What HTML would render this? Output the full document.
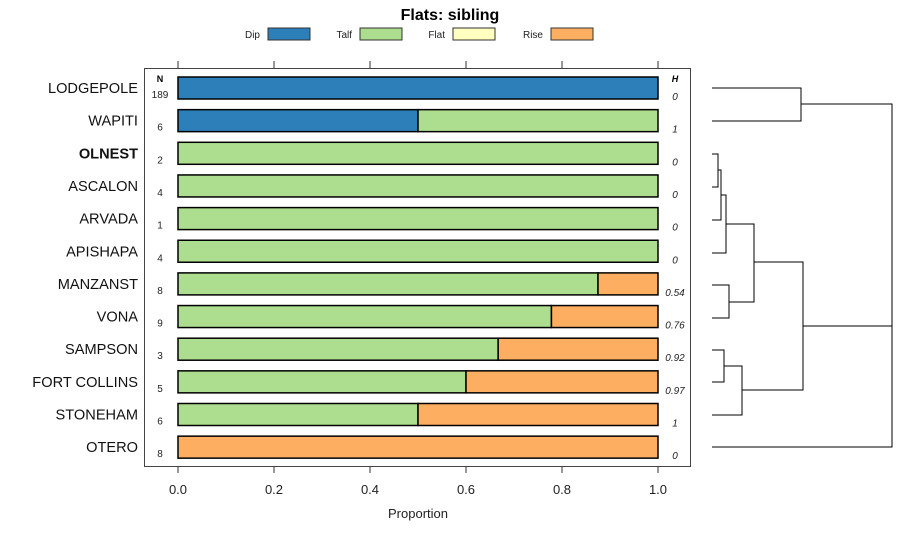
<!DOCTYPE html>
<html><head><meta charset="utf-8"><style>
html,body{margin:0;padding:0;background:#fff;}
svg{display:block;font-family:"Liberation Sans",sans-serif;}
</style></head><body>
<svg id="chart" width="900" height="540" viewBox="0 0 900 540"></svg>
<script>
const categories=["LODGEPOLE","WAPITI","OLNEST","ASCALON","ARVADA","APISHAPA","MANZANST","VONA","SAMPSON","FORT COLLINS","STONEHAM","OTERO"];
const nValues=["189","6","2","4","1","4","8","9","3","5","6","8"];
const hValues=["0","1","0","0","0","0","0.54","0.76","0.92","0.97","1","0"];
const dip=[1,0.5,0,0,0,0,0,0,0,0,0,0];
const talf=[0,0.5,1,1,1,1,0.875,0.778,0.667,0.6,0.5,0];
const flat=[0,0,0,0,0,0,0,0,0,0,0,0];
const rise=[0,0,0,0,0,0,0.125,0.222,0.333,0.4,0.5,1];
const seriesNames=["Dip","Talf","Flat","Rise"];
const seriesColors=["#2c7fb8","#addd8e","#ffffbf","#fdae61"];
const xTicks=[0,0.2,0.4,0.6,0.8,1.0];
const NS="http://www.w3.org/2000/svg";
const svg=document.getElementById('chart');
function mk(t,a,p){const e=document.createElementNS(NS,t);for(const k in a)e.setAttribute(k,a[k]);(p||svg).appendChild(e);return e;}
const x0=178,x1=658;
const xs=v=>x0+v*(x1-x0);
const ys=i=>88+i*32.65;
let t=mk('text',{x:450,y:20,'text-anchor':'middle','font-size':16,'font-weight':'bold'});t.textContent='Flats: sibling';

const lx=[268,360,453,551];
seriesNames.forEach((s,i)=>{
 const g=mk('g',{});
 
 
 const tt=mk('text',{x:lx[i]-8,y:38,'text-anchor':'end','font-size':10,fill:'#222'},g);tt.textContent=s;
 mk('rect',{x:lx[i],y:28,width:42,height:12,fill:seriesColors[i],stroke:'#333','stroke-width':1},g);
});
const panel=mk('rect',{x:144.5,y:68.5,width:546,height:398,fill:'none',stroke:'#444','stroke-width':1});

xTicks.forEach(v=>{
 mk('line',{x1:xs(v),x2:xs(v),y1:61,y2:68,stroke:'#333'});
 mk('line',{x1:xs(v),x2:xs(v),y1:466,y2:473,stroke:'#333'});
 const l=mk('text',{x:xs(v),y:494,'text-anchor':'middle','font-size':13,fill:'#222'});l.textContent=v.toFixed(1);
 
});
const xl=mk('text',{x:418,y:518,'text-anchor':'middle','font-size':13,fill:'#222'});xl.textContent='Proportion';

let h=mk('text',{x:160,y:82,'text-anchor':'middle','font-size':9,'font-weight':'bold'});h.textContent='N';
h=mk('text',{x:675,y:82,'text-anchor':'middle','font-size':9,'font-weight':'bold','font-style':'italic'});h.textContent='H';
const series=[dip,talf,flat,rise];
categories.forEach((c,i)=>{
 const y=ys(i);
 const lab=mk('text',{x:138,y:y+5,'text-anchor':'end','font-size':14.6,fill:'#111','font-weight':c==='OLNEST'?'bold':'normal'});lab.textContent=c;
 
 const n=mk('text',{x:160,y:y+10,'text-anchor':'middle','font-size':10,fill:'#222'});n.textContent=nValues[i];
 
 const hv=mk('text',{x:675,y:y+12,'text-anchor':'middle','font-size':10,'font-style':'italic',fill:'#222'});hv.textContent=hValues[i];
 
 let acc=0;
 series.forEach((s,k)=>{
  if(s[i]>0){
   const r=mk('rect',{x:xs(acc),y:y-11,width:xs(acc+s[i])-xs(acc),height:22,fill:seriesColors[k],stroke:'#000','stroke-width':1.5});
   
   acc+=s[i];
  }
 });
});
const dg=mk('g',{fill:'none',stroke:'#000','stroke-width':1});

const P=(d)=>mk('path',{d:d},dg);
P('M712 88H801V121H712');
P('M801 104H892V447H712');
P('M712 154H718V187H712');
P('M718 170H721V220H712');
P('M721 195H726V253H712');
P('M712 285H729V318H712');
P('M726 224H754V302H729');
P('M712 350H724V382H712');
P('M724 366H742V415H712');
P('M754 262H803V390H742');
P('M803 326H892');
</script>
</body></html>
